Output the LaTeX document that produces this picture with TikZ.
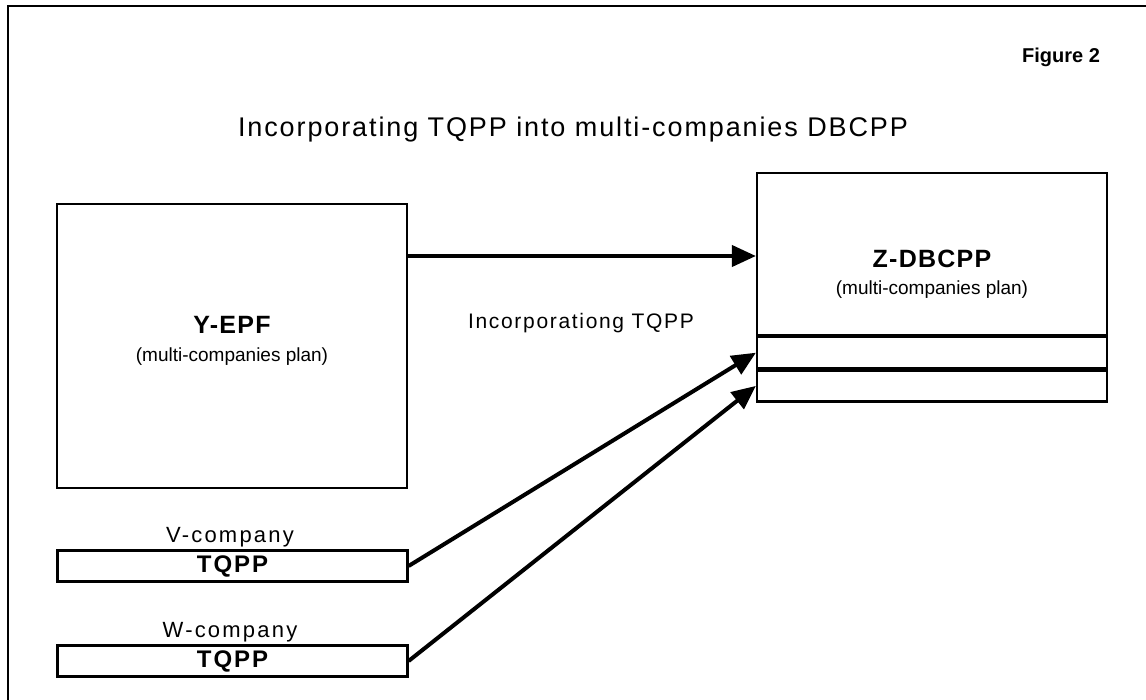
\documentclass[tikz,border=0pt]{standalone}
\usepackage{fontspec}
\setmainfont{Liberation Sans}
\usetikzlibrary{arrows.meta}

\begin{document}
\begin{tikzpicture}[x=0.5pt,y=-0.5pt,
    box/.style={draw, line width=1.1pt, inner sep=0pt},
    link/.style={line width=2pt, -{Triangle[length=12pt,width=10.5pt]}},
    lbl/.style={inner sep=0pt, align=center},
    planname/.style={lbl, font=\bfseries\fontsize{12.5}{14}\selectfont\addfontfeature{LetterSpace=5}},
    plansub/.style={lbl, font=\fontsize{9.5}{11}\selectfont},
    compname/.style={lbl, font=\fontsize{11}{13}\selectfont\addfontfeature{LetterSpace=10}}]
    \useasboundingbox (0,0) rectangle (1146,700);

    % scan frame (top and left edges only)
    \draw[line width=1pt] (8,700) -- (8,6) -- (1146,6);

    \node[lbl, font=\bfseries\fontsize{10}{12}\selectfont] (fig) at (1061,57) {Figure 2};
    \node[lbl, font=\fontsize{13.5}{16}\selectfont\addfontfeature{LetterSpace=7}] (title) at (573,130) {Incorporating TQPP into multi-companies DBCPP};

    % left side
    \node[box, minimum width=175pt, minimum height=142pt] (yepf) at (232,346) {};
    \node[planname] (yepfname) at (232,325) {Y-EPF};
    \node[plansub] (yepfsub) at (232,357) {(multi-companies plan)};

    \node[box, minimum width=175pt, minimum height=15.5pt,
          font=\bfseries\fontsize{12}{14}\selectfont\addfontfeature{LetterSpace=8}] (vtqpp) at (232.5,566) {TQPP};
    \node[compname] (vcomp) at (230,537) {V-company};
    \node[box, minimum width=175pt, minimum height=15.5pt,
          font=\bfseries\fontsize{12}{14}\selectfont\addfontfeature{LetterSpace=8}] (wtqpp) at (232.5,661) {TQPP};
    \node[compname] (wcomp) at (230,632) {W-company};

    % right side
    \node[box, minimum width=175pt, minimum height=81pt] (zdb) at (932,254) {};
    \node[planname] (zname) at (932,259) {Z-DBCPP};
    \node[plansub] (zsub) at (932,290) {(multi-companies plan)};
    \node[box, minimum width=175pt, minimum height=15.5pt, anchor=north] (zv) at (zdb.south) {};
    \node[box, minimum width=175pt, minimum height=15.5pt, anchor=north] (zw) at (zv.south) {};

    % connectors
    \coordinate (ytop) at (yepf.east |- 0,256);
    \draw[link] (ytop) -- (ytop -| zdb.west);
    \node[lbl, font=\fontsize{10.5}{12}\selectfont\addfontfeature{LetterSpace=8}] (inc) at (581,323) {Incorporationg TQPP};
    \draw[link] (vtqpp.east) -- (zv.west);
    \draw[link] (wtqpp.east) -- (zw.west);

\end{tikzpicture}
\end{document}
